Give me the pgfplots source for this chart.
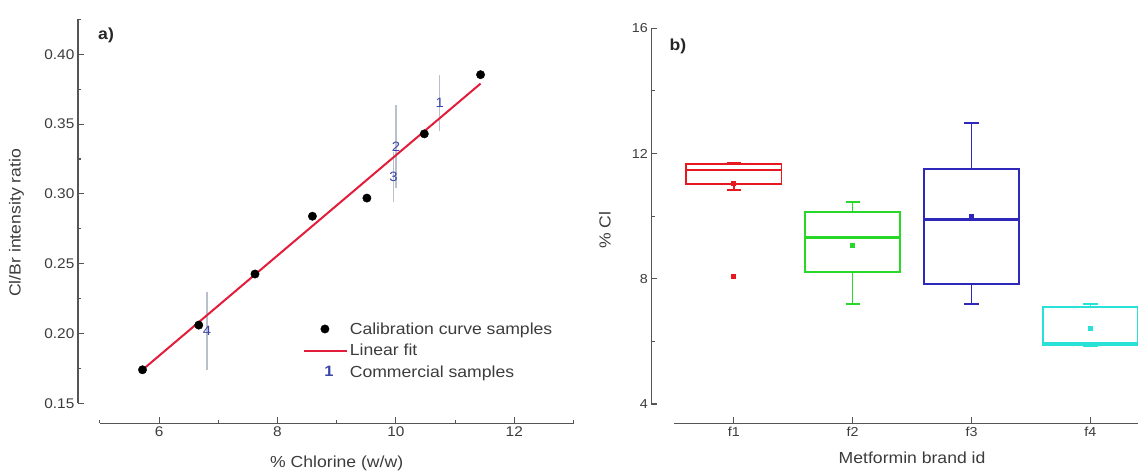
\documentclass[border=0pt]{standalone}
\usepackage{fontspec}
\setmainfont{Liberation Sans}[FakeStretch=1.1]
\usepackage{pgfplots}
\pgfplotsset{compat=1.18}
\usepgfplotslibrary{statistics}

\definecolor{axgray}{RGB}{85,85,85}
\definecolor{txtgray}{RGB}{60,60,60}
\definecolor{fitred}{RGB}{226,28,58}
\definecolor{errgray}{RGB}{185,192,204}
\definecolor{numblue}{RGB}{60,70,170}
\definecolor{bred}{RGB}{232,24,32}
\definecolor{bgreen}{RGB}{40,215,40}
\definecolor{bblue}{RGB}{45,40,185}
\definecolor{bcyan}{RGB}{40,225,215}

\pgfplotsset{
  myax/.style={
    scale only axis,
    axis x line=bottom, axis y line=left,
    axis line style={-, draw=axgray, line width=1.3pt},
    tick style={draw=axgray, line width=1.1pt},
    major tick length=6pt, minor tick length=3.5pt,
    tick align=inside,
    /pgf/number format/assume math mode=true,
    ticklabel style={text=txtgray},
    label style={text=txtgray, font=\fontsize{16}{18}\selectfont},
    clip=false,
  }
}

\begin{document}
\begin{tikzpicture}
\useasboundingbox (0,0) rectangle (1138pt,473pt);
\clip (0,0) rectangle (1138pt,473pt);

% ---------------- panel a ----------------
\begin{axis}[myax,
  at={(99.9pt,69.7pt)}, anchor=south west,
  width=473.6pt, height=383.9pt,
  xmin=5, xmax=13, ymin=0.15, ymax=0.425,
  axis x line shift=20pt, axis y line shift=22pt,
  xtick={6,8,10,12}, minor xtick={5,7,9,11,13},
  ytick={0.15,0.20,0.25,0.30,0.35,0.40},
  minor ytick={0.175,0.225,0.275,0.325,0.375,0.425},
  yticklabel style={/pgf/number format/.cd, fixed, fixed zerofill, precision=2},
  ticklabel style={font=\fontsize{14}{16}\selectfont},
  xlabel={\% Chlorine (w/w)}, ylabel={Cl/Br intensity ratio},
  xlabel style={at={(axis description cs:0.5,0)}, anchor=center, yshift=-59.7pt},
  ylabel style={at={(axis description cs:-0.1759,0.47)}, anchor=center},
  legend style={at={(axis cs:8.43,0.2095)}, anchor=north west, draw=none, fill=none,
    font=\fontsize{16}{18}\selectfont, text=txtgray, row sep=4.5pt, inner sep=0pt,
    nodes={inner sep=2pt}},
  legend cell align=left,
]
% commercial samples (drawn first, behind)
\addplot[forget plot, draw=none, mark=none,
  nodes near coords, point meta=explicit symbolic,
  nodes near coords style={anchor=center, text=numblue, font=\fontsize{13.5}{13.5}\selectfont},
  error bars/.cd, y dir=both, y explicit,
  error bar style={draw=errgray, line width=1.2pt}, error mark=none]
  table[x=x, y=y, y error=e, meta=l, row sep=\\] {
  x y e l\\
  10.74 0.365 0.020 1\\
  10.00 0.334 0.030 2\\
  9.96 0.312 0.018 3\\
  6.81 0.202 0.028 4\\
};
% calibration curve samples
\addplot[only marks, mark=*, mark size=4.2pt, black,
  legend image code/.code={\draw[black] plot[mark=*, mark size=4.2pt] coordinates {(0.73cm,0cm)};}]
  coordinates {
  (5.72,0.174) (6.67,0.206) (7.62,0.2426) (8.59,0.284)
  (9.51,0.297) (10.48,0.343) (11.43,0.3854)
};
\addlegendentry{Calibration curve samples}
% linear fit
\addplot[fitred, line width=2pt, mark=none,
  legend image code/.code={\draw[fitred, line width=2pt] (0cm,0cm) -- (1.5cm,0cm);}]
  coordinates {(5.72,0.174) (11.43,0.379)};
\addlegendentry{Linear fit}
\addlegendimage{legend image code/.code={\node[text=numblue, font=\bfseries\fontsize{15}{15}\selectfont, inner sep=0pt] at (0.7cm,0cm) {1};}}
\addlegendentry{Commercial samples}
\node[font=\bfseries\fontsize{16}{18}\selectfont, text=black!85] at (rel axis cs:0.013,0.959) {a)};
\end{axis}

% ---------------- panel b ----------------
\begin{axis}[myax,
  at={(674.3pt,69pt)}, anchor=south west,
  width=475.6pt, height=375.7pt,
  xmin=0.5, xmax=4.5, ymin=4, ymax=16,
  axis x line shift=19.3pt, axis y line shift=23pt,
  xtick={1,2,3,4}, xticklabels={f1,f2,f3,f4},
  ytick={4,8,12,16}, minor ytick={6,10,14},
  ticklabel style={font=\fontsize{13}{15}\selectfont},
  xlabel={Metformin brand id}, ylabel={\% Cl},
  xlabel style={at={(axis description cs:0.5,0)}, anchor=center, yshift=-54pt},
  ylabel style={at={(axis description cs:-0.1459,0.463)}, anchor=center},
  boxplot/draw direction=y,
  boxplot/box extend=0.8, boxplot/whisker extend=0.12,
  boxplot/every average/.style={/tikz/mark=square*, mark size=1.8pt},
]
% medians, drawn as thick as the box outlines
\addplot[forget plot, bred, line width=2.2pt, mark=none] coordinates {(0.6,11.48) (1.4,11.48)};
\addplot[forget plot, bgreen, line width=2.2pt, mark=none] coordinates {(1.6,9.32) (2.4,9.32)};
\addplot[forget plot, bblue, line width=2.2pt, mark=none] coordinates {(2.6,9.89) (3.4,9.89)};
\addplot[forget plot, bcyan, line width=2.2pt, mark=none] coordinates {(3.6,5.95) (4.4,5.95)};
\addplot[bred, line width=1.6pt, mark=square*, mark size=1.8pt,
  boxplot prepared={draw position=1, lower whisker=10.84, lower quartile=11.03,
    median=11.48, upper quartile=11.67, upper whisker=11.71, average=11.05}]
  table[row sep=\\, y index=0] {8.07\\};
\addplot[bgreen, line width=1.6pt, mark=square*, mark size=1.8pt,
  boxplot prepared={draw position=2, lower whisker=7.19, lower quartile=8.22,
    median=9.32, upper quartile=10.13, upper whisker=10.45, average=9.06}]
  coordinates {};
\addplot[bblue, line width=1.6pt, mark=square*, mark size=1.8pt,
  boxplot prepared={draw position=3, lower whisker=7.20, lower quartile=7.83,
    median=9.89, upper quartile=11.51, upper whisker=12.97, average=9.99}]
  coordinates {};
\addplot[bcyan, line width=1.6pt, mark=square*, mark size=1.8pt,
  boxplot prepared={draw position=4, lower whisker=5.84, lower quartile=5.89,
    median=5.95, upper quartile=7.09, upper whisker=7.19, average=6.42}]
  coordinates {};
\node[font=\bfseries\fontsize{16}{18}\selectfont, text=black!85] at (rel axis cs:0.0076,0.951) {b)};
\end{axis}
\end{tikzpicture}
\end{document}
